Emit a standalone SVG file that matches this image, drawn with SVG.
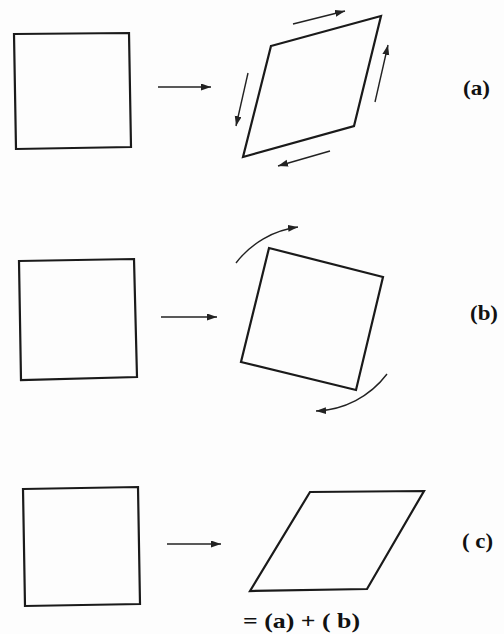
<svg xmlns="http://www.w3.org/2000/svg" width="504" height="634" viewBox="0 0 504 634">
<style>
.shape{fill:none;stroke:#1a1a1a;stroke-width:2.2;stroke-linejoin:miter}
.arr{fill:none;stroke:#222;stroke-width:1.4;marker-end:url(#ah)}
.lbl{font-family:"Liberation Serif","Times New Roman",serif;font-weight:bold;font-size:21px;fill:#111}
</style>
<defs>
<marker id="ah" markerUnits="userSpaceOnUse" markerWidth="11" markerHeight="8" refX="10" refY="3.5" orient="auto">
<path d="M0,0 L10,3.5 L0,7 z" fill="#222"/>
</marker>
</defs>
<rect width="504" height="634" fill="#fdfdfd"/>

<g id="a-square"><polygon class="shape" points="14,34 129,33 131,147 16,149"/></g>
<g id="a-shear"><polygon class="shape" points="271,46 381,16 354,126 243,157"/></g>
<g id="a-label"><text class="lbl" x="463" y="95" textLength="27" lengthAdjust="spacingAndGlyphs">(a)</text></g>

<g id="b-square"><polygon class="shape" points="19,261 134,259 137,377 21,380"/></g>
<g id="b-rotated"><polygon class="shape" points="269,248 383,277 356,390 241,362"/></g>
<g id="b-label"><text class="lbl" x="470" y="320" textLength="28" lengthAdjust="spacingAndGlyphs">(b)</text></g>

<g id="c-square"><polygon class="shape" points="23,489 138,487 140,604 25,606"/></g>
<g id="c-parallelogram"><polygon class="shape" points="310,492 424,491 367,589 250,591"/></g>
<g id="c-label"><text class="lbl" x="462" y="548" textLength="31" lengthAdjust="spacingAndGlyphs">( c)</text></g>
<g id="sum-label"><text class="lbl" x="243" y="628" textLength="117" lengthAdjust="spacingAndGlyphs">= (a) + ( b)</text></g>

<g id="connectors">
<line class="arr" x1="158" y1="87" x2="211" y2="87"/>
<line class="arr" x1="293" y1="24" x2="345" y2="11"/>
<line class="arr" x1="375" y1="102" x2="388" y2="45"/>
<line class="arr" x1="248" y1="73" x2="236" y2="126"/>
<line class="arr" x1="330" y1="151" x2="278" y2="166"/>
<line class="arr" x1="161" y1="317" x2="217" y2="317"/>
<path class="arr" d="M236,263 A93,93 0 0 1 298,227"/>
<path class="arr" d="M387,374 A93,93 0 0 1 316,411"/>
<line class="arr" x1="167" y1="544" x2="221" y2="544"/>
</g>
</svg>
